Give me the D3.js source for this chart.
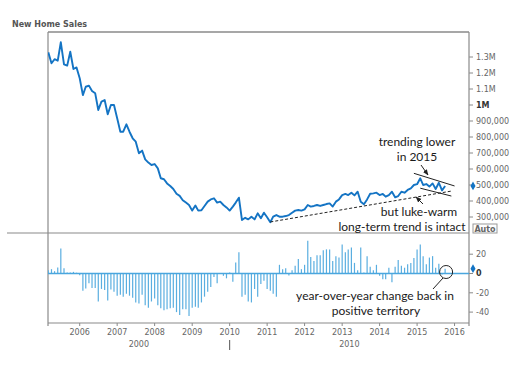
<!DOCTYPE html>
<html><head><meta charset="utf-8">
<script src="https://cdn.jsdelivr.net/npm/d3@7"></script>
<style>html,body{margin:0;padding:0;background:#fff;}svg{display:block;}</style>
</head><body>
<svg id="chart" width="525" height="366"></svg>
<script>
// ---------------- data ----------------
const firstMonth = new Date(2005, 2, 1); // March 2005
// New home sales, thousands (SAAR), monthly from Mar 2005
const sales = [
  1329,1261,1286,1277,1392,1254,1246,1333,1225,1235,1167,1062,
  1114,1121,1087,1073,969,1021,1031,942,1000,1000,917,833,
  833,879,833,792,771,698,715,660,640,625,631,604,
  542,536,510,494,475,445,432,405,390,375,340,372,
  340,342,369,396,410,417,390,396,375,360,340,365,
  390,421,281,295,285,302,285,323,292,327,298,267,
  302,312,302,302,306,312,327,340,344,340,348,375,
  365,369,375,369,375,381,385,365,396,410,437,444,
  437,452,435,458,395,380,410,445,448,452,437,444,
  427,437,458,423,431,458,452,469,479,500,505,542,
  500,506,490,510,475,514,466,494
];
// Year-over-year change, %
const yoy = [
  3.4,4.5,2.4,6.2,26,5.5,1,1,1.7,0.8,-1.7,-18,
  -15.5,-10,-15,-15,-29,-16,-17,-28,-16.5,-19,-23,-22,
  -24,-21,-23,-25,-30,-31,-22,-33,-35.5,-29,-26,-33,
  -36,-38,-37,-36,-35.5,-40,-43,-37,-37,-44,-35.5,-34.5,
  -35.5,-30,-24,-19,-14,-3.5,-10,0,-2.4,-5,1,-8.6,
  11.4,22,-24,-22,-29,-30,-16,-24,-11,-7.6,-16,-18,
  -21,-24,9,4.5,5.5,-2,3.4,8,15,4.5,9,34,
  17,13,19,19,24,25,25,13,18,16.5,30,22,
  25,27,11,3.4,27,1,18,7,3.4,9,-2.4,-6,
  -6,6,-9,7,14,8,6,9.6,11,16,25,30,
  18,9.6,16.5,18,6,10,-1,5
];
const salesTicks = [300000,400000,500000,600000,700000,800000,900000,1000000,1100000,1200000,1300000];
const yoyTicks = [20,0,-20,-40];
const yearTicks = [2006,2007,2008,2009,2010,2011,2012,2013,2014,2015,2016];
const decadeLabels = ["2000","2010"];
const title = "New Home Sales";

const months = sales.map((d,i) => new Date(2005, 2 + i, 1));

// ---------------- layout ----------------
const L = 48, R = 469, T = 32, MID = 233, B = 323;
const svg = d3.select("#chart");
const lineColor = "#1474c4", barColor = "#5aaee0", frame = "#8a8a8a", tickText = "#666";

const x = d3.scaleTime().domain([firstMonth, new Date(2016,0,1)]).range([48.3, 48.3 + 130*3.125]);
const y = d3.scaleLinear().domain([300000, 900000]).range([217, 121]);
const y2 = d3.scaleLinear().domain([0, 20]).range([273.5, 254.2]);

svg.append("text").attr("x",12).attr("y",27).text(title)
  .attr("font-family","DejaVu Sans").attr("font-weight","bold").attr("font-size",8).attr("fill","#555");

const defs = svg.append("defs");
defs.append("clipPath").attr("id","cu").append("rect").attr("x",L).attr("y",T).attr("width",R-L).attr("height",MID-T);
defs.append("clipPath").attr("id","cl").append("rect").attr("x",L).attr("y",MID).attr("width",R-L).attr("height",B-MID);
defs.append("marker").attr("id","arr").attr("viewBox","0 0 10 10").attr("refX",9).attr("refY",5)
  .attr("markerWidth",6).attr("markerHeight",6).attr("orient","auto")
  .append("path").attr("d","M0,1 L10,5 L0,9 Z").attr("fill","#222");

// frames
const fr = svg.append("g").attr("stroke",frame).attr("fill","none");
fr.append("line").attr("x1",L).attr("x2",R).attr("y1",T).attr("y2",T).attr("stroke-width",1.5);
fr.append("line").attr("x1",L).attr("x2",L).attr("y1",T).attr("y2",B+3).attr("stroke-width",1.2);
fr.append("line").attr("x1",R).attr("x2",R).attr("y1",T).attr("y2",B+3).attr("stroke-width",1.2);
fr.append("line").attr("x1",7).attr("x2",R).attr("y1",MID).attr("y2",MID).attr("stroke-width",1.2);
fr.append("line").attr("x1",L).attr("x2",R).attr("y1",B).attr("y2",B).attr("stroke-width",1.2);

// upper line
svg.append("path").datum(sales).attr("clip-path","url(#cu)")
  .attr("fill","none").attr("stroke",lineColor).attr("stroke-width",1.9).attr("stroke-linejoin","round")
  .attr("d", d3.line().x((d,i)=>x(months[i])).y(d=>y(d*1000)));

// lower bars
const gl = svg.append("g").attr("clip-path","url(#cl)");
gl.selectAll("line.bar").data(yoy).join("line").attr("class","bar")
  .attr("x1",(d,i)=>x(months[i])).attr("x2",(d,i)=>x(months[i]))
  .attr("y1",y2(0)).attr("y2",d=>y2(d)).attr("stroke",barColor).attr("stroke-width",1.2);
gl.append("line").attr("x1",L).attr("x2",R).attr("y1",y2(0)).attr("y2",y2(0))
  .attr("stroke","#4aa6de").attr("stroke-width",1.6);

// right axis
const ta = svg.append("g").attr("font-family","DejaVu Sans").attr("font-size",8).attr("fill",tickText);
salesTicks.forEach(v => {
  const yy = y(v);
  ta.append("line").attr("x1",R).attr("x2",R+4).attr("y1",yy).attr("y2",yy).attr("stroke",frame);
  const t = ta.append("text").attr("x",R+7).attr("y",yy).attr("dy","0.35em")
    .text(v >= 1000000 ? (v/1000000) + "M" : d3.format(",")(v));
  if (v === 1000000) t.attr("font-weight","bold").attr("fill","#333");
});
yoyTicks.forEach(v => {
  const yy = y2(v);
  ta.append("line").attr("x1",R).attr("x2",R+4).attr("y1",yy).attr("y2",yy).attr("stroke",frame);
  const t = ta.append("text").attr("x",R+7).attr("y",yy).attr("dy","0.35em").text(v);
  if (v === 0) t.attr("font-weight","bold").attr("fill","#333");
});
// last value markers
const diamond = d3.symbol().type(d3.symbolDiamond).size(22);
svg.append("path").attr("d",diamond).attr("transform",`translate(${R+4},${y(sales[sales.length-1]*1000)})`).attr("fill",lineColor);
svg.append("path").attr("d",diamond).attr("transform",`translate(${R+4},${y2(yoy[yoy.length-1])})`).attr("fill",lineColor);
// Auto box
svg.append("rect").attr("x",473).attr("y",224).attr("width",24).attr("height",9).attr("fill","#fff").attr("stroke","#999");
svg.append("text").attr("x",485).attr("y",231.5).attr("text-anchor","middle").text("Auto")
  .attr("font-family","DejaVu Sans").attr("font-size",8).attr("font-weight","bold").attr("fill","#666");

// x axis
const xa = svg.append("g").attr("font-family","DejaVu Sans").attr("font-size",8).attr("fill",tickText);
yearTicks.forEach(yr => {
  const xx = x(new Date(yr,0,1));
  xa.append("line").attr("x1",xx).attr("x2",xx).attr("y1",B).attr("y2",B+3).attr("stroke",frame);
  xa.append("text").attr("x",xx).attr("y",335).attr("text-anchor","middle").text(yr);
});
const xDec = x(new Date(2010,0,1));
xa.append("text").attr("x",(L+xDec)/2).attr("y",347).attr("text-anchor","middle").text(decadeLabels[0]);
xa.append("text").attr("x",(xDec+R)/2).attr("y",347).attr("text-anchor","middle").text(decadeLabels[1]);
xa.append("line").attr("x1",xDec).attr("x2",xDec).attr("y1",340).attr("y2",350).attr("stroke","#555");

// annotations
const ann = svg.append("g").attr("font-family","Lato").attr("font-size",12).attr("fill","#1a1a1a").attr("text-anchor","middle");
ann.append("text").attr("x",417).attr("y",146).text("trending lower");
ann.append("text").attr("x",417).attr("y",161).text("in 2015");
ann.append("text").attr("x",419).attr("y",216).text("but luke-warm");
ann.append("text").attr("x",402).attr("y",231).text("long-term trend is intact");
ann.append("text").attr("x",375).attr("y",300).text("year-over-year change back in");
ann.append("text").attr("x",376).attr("y",315).text("positive territory");

const ag = svg.append("g").attr("stroke","#222").attr("fill","none").attr("stroke-width",1);
const mdate = m => new Date(2005, 2 + m, 1);
// long-term trend (dashed)
ag.append("line").attr("x1",x(mdate(71))).attr("y1",y(269000)).attr("x2",x(mdate(129.5))).attr("y2",y(462000))
  .attr("stroke-dasharray","3,2");
// channel
ag.append("line").attr("x1",x(mdate(117.5))).attr("y1",y(573000)).attr("x2",x(mdate(130.3))).attr("y2",y(494000));
ag.append("line").attr("x1",x(mdate(119.3))).attr("y1",y(480000)).attr("x2",x(mdate(129.2))).attr("y2",y(431000));
// arrows
ag.append("line").attr("x1",421).attr("y1",165).attr("x2",428).attr("y2",175).attr("marker-end","url(#arr)");
ag.append("line").attr("x1",423).attr("y1",204).attr("x2",416).attr("y2",197).attr("marker-end","url(#arr)");
// circle on last bar
ag.append("circle").attr("cx",x(months[months.length-1])+1).attr("cy",272).attr("r",6.5);
ag.append("line").attr("x1",443).attr("y1",278).attr("x2",433).attr("y2",289);
</script>
</body></html>
